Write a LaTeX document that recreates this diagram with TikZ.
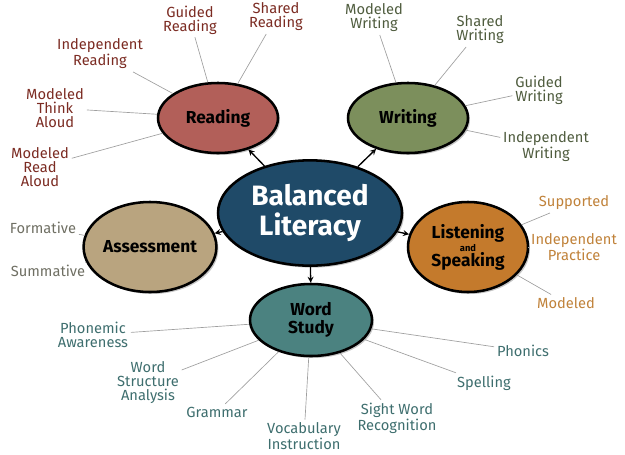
\documentclass[tikz,border=0pt]{standalone}
\usepackage{fontspec}
\setmainfont{Fira Sans}
\usepackage{xcolor}
\usetikzlibrary{shapes,shadows}

\definecolor{blitfill}{HTML}{1F4A68}
\definecolor{readfill}{HTML}{B25F59}
\definecolor{writefill}{HTML}{7C8F5C}
\definecolor{assessfill}{HTML}{B9A47F}
\definecolor{listenfill}{HTML}{C47A2C}
\definecolor{wordfill}{HTML}{4B8280}
\definecolor{readtext}{HTML}{7B2B22}
\definecolor{writetext}{HTML}{4F5C3E}
\definecolor{assesstext}{HTML}{6F6F63}
\definecolor{listentext}{HTML}{C0823A}
\definecolor{wordtext}{HTML}{3E6E6E}

\begin{document}
\begin{tikzpicture}[x=0.75pt,y=-0.75pt]
        %styles
        \tikzstyle{topic}=[ellipse, draw=black, line width=1.9pt, inner sep=0pt, align=center, font=\bfseries\fontsize{13}{13}\selectfont, drop shadow={opacity=0.45, shadow xshift=1.5pt, shadow yshift=-1.5pt}]
        \tikzstyle{smalltopic}=[topic, minimum width=90pt, minimum height=52.5pt]
        \tikzstyle{bigtopic}=[topic, minimum width=90pt, minimum height=67.5pt]
        \tikzstyle{sub}=[align=center, inner sep=2pt, font=\fontsize{11}{10.5}\selectfont]
        \tikzstyle{readsub}=[sub, text=readtext]
        \tikzstyle{writesub}=[sub, text=writetext]
        \tikzstyle{assesssub}=[sub, text=assesstext]
        \tikzstyle{listensub}=[sub, text=listentext]
        \tikzstyle{wordsub}=[sub, text=wordtext]
        \tikzstyle{twig}=[draw=gray!75, line width=0.5pt]
        \tikzstyle{commu}=[->,>=stealth,line width=1pt]

        \useasboundingbox (0,0) rectangle (625,454);

        %nodes
        \node[topic, fill=blitfill, text=white, minimum width=138pt, minimum height=79pt, font=\bfseries\fontsize{21}{22}\selectfont] (bl) at (310,213) {Balanced\\Literacy};
        \node[smalltopic, fill=readfill] (rd) at (218,118) {Reading};
        \node[smalltopic, fill=writefill] (wr) at (408,118) {Writing};
        \node[bigtopic, fill=assessfill] (as) at (150,247) {Assessment};
        \node[bigtopic, fill=listenfill] (ls) at (468,247) {Listening\\[-3pt]{\fontsize{7}{7}\selectfont and}\\[-2pt]Speaking};
        \node[topic, fill=wordfill, minimum width=91.5pt, minimum height=54pt] (ws) at (311,320) {Word\\Study};

        \node[readsub] (r1) at (190,20) {Guided\\Reading};
        \node[readsub] (r2) at (276,17) {Shared\\Reading};
        \node[readsub] (r3) at (100,54) {Independent\\Reading};
        \node[readsub] (r4) at (55,108) {Modeled\\Think\\Aloud};
        \node[readsub] (r5) at (40,167) {Modeled\\Read\\Aloud};

        \node[writesub] (w1) at (374,18) {Modeled\\Writing};
        \node[writesub] (w2) at (480,30) {Shared\\Writing};
        \node[writesub] (w3) at (539,90) {Guided\\Writing};
        \node[writesub] (w4) at (546,147) {Independent\\Writing};

        \node[assesssub] (a1) at (43,228) {Formative};
        \node[assesssub] (a2) at (48,271) {Summative};

        \node[listensub] (l1) at (574,203) {Supported};
        \node[listensub] (l2) at (574,247) {Independent\\Practice};
        \node[listensub] (l3) at (566,303) {Modeled};

        \node[wordsub] (d1) at (93,335) {Phonemic\\Awareness};
        \node[wordsub] (d2) at (148,383) {Word\\Structure\\Analysis};
        \node[wordsub] (d3) at (217,412) {Grammar};
        \node[wordsub] (d4) at (304,436) {Vocabulary\\Instruction};
        \node[wordsub] (d5) at (397,418) {Sight Word\\Recognition};
        \node[wordsub] (d6) at (484,383) {Spelling};
        \node[wordsub] (d7) at (523,351) {Phonics};

        %arraws
        \draw[commu] (bl)--(rd);
        \draw[commu] (bl)--(wr);
        \draw[commu] (bl)--(as);
        \draw[commu] (bl)--(ls);
        \draw[commu] (bl)--(ws);

        \foreach \t in {r1,r2,r3,r4,r5} \draw[twig] (rd)--(\t);
        \foreach \t in {w1,w2,w3,w4} \draw[twig] (wr)--(\t);
        \foreach \t in {a1,a2} \draw[twig] (as)--(\t);
        \foreach \t in {l1,l2,l3} \draw[twig] (ls)--(\t);
        \foreach \t in {d1,d2,d3,d4,d5,d6,d7} \draw[twig] (ws)--(\t);

        \end{tikzpicture}
\end{document}
